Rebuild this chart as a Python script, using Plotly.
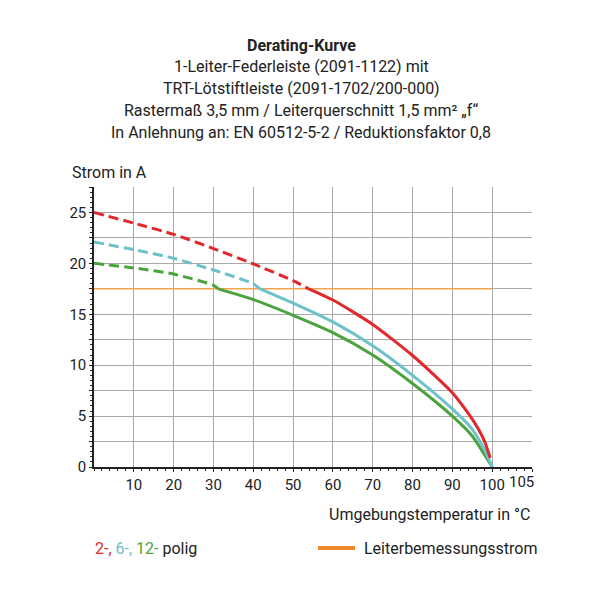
import plotly.graph_objects as go

# ---- data ----
temp_red_dash = [0, 10, 20, 30, 40, 50, 53.9]
red_dash = [25, 23.95, 22.85, 21.45, 19.95, 18.3, 17.5]
temp_red_solid = [53.9, 60, 70, 80, 90, 95, 98, 99.5]
red_solid = [17.5, 16.4, 14.0, 10.95, 7.3, 4.7, 2.6, 0.9]

temp_cyan_dash = [0, 10, 20, 30, 40, 41.7]
cyan_dash = [22.1, 21.35, 20.5, 19.35, 18.0, 17.5]
temp_cyan_solid = [41.7, 50, 60, 70, 80, 90, 95, 98, 100]
cyan_solid = [17.5, 16.1, 14.25, 11.9, 9.0, 5.7, 3.7, 1.75, 0]

temp_green_dash = [0, 10, 20, 30, 31.2]
green_dash = [20, 19.55, 18.95, 17.85, 17.5]
temp_green_solid = [31.2, 40, 50, 60, 70, 80, 90, 95, 98, 100]
green_solid = [17.5, 16.45, 14.9, 13.2, 11.0, 8.2, 5.0, 3.05, 1.25, 0]

rated_temp = [0, 100]
rated_current = [17.5, 17.5]

x_ticks = [10, 20, 30, 40, 50, 60, 70, 80, 90, 100, 110]
x_ticklabels = ["10", "20", "30", "40", "50", "60", "70", "80", "90", "100", ""]
y_ticks = [0, 2.5, 5, 7.5, 10, 12.5, 15, 17.5, 20, 22.5, 25, 27.5]
y_ticklabels = ["0", "", "5", "", "10", "", "15", "", "20", "", "25", ""]

title_lines = [
    "<b>Derating-Kurve</b>",
    "1-Leiter-Federleiste (2091-1122) mit",
    "TRT-Lötstiftleiste (2091-1702/200-000)",
    "Rastermaß 3,5 mm / Leiterquerschnitt 1,5 mm² „f“",
    "In Anlehnung an: EN 60512-5-2 / Reduktionsfaktor 0,8",
]

RED = "#e1282c"
CYAN = "#6dc1ca"
GREEN = "#4aa33d"
ORANGE = "#f6a44c"
ORANGE_LEG = "#f08a2e"
FONT = "Roboto, sans-serif"
TXT = "#222222"
FS = 16
TFS = 15

fig = go.Figure()
fig.add_trace(go.Scatter(x=rated_temp, y=rated_current, mode="lines",
                         line=dict(color=ORANGE, width=1.6)))
for xs, ys, col in [(temp_red_dash, red_dash, RED), (temp_cyan_dash, cyan_dash, CYAN),
                    (temp_green_dash, green_dash, GREEN)]:
    fig.add_trace(go.Scatter(x=xs, y=ys, mode="lines",
                             line=dict(color=col, width=3, dash="10px,5px", shape="spline", smoothing=0.6)))
for xs, ys, col in [(temp_green_solid, green_solid, GREEN), (temp_cyan_solid, cyan_solid, CYAN),
                    (temp_red_solid, red_solid, RED)]:
    fig.add_trace(go.Scatter(x=xs, y=ys, mode="lines",
                             line=dict(color=col, width=3, shape="spline", smoothing=0.6)))

# page body has an 8px margin: reference pixel coords shifted by OFF
OFF = 8
L, T, R, B = 94 - OFF, 187 - OFF, 532 - OFF, 467 - OFF
W, H = R - L, B - T


def px(x):
    return (x - OFF - L) / W


def py(y):
    return (B - (y - OFF)) / H


ann = []
for i, line in enumerate(title_lines):
    ann.append(dict(x=px(301), y=py(45 + i * 21.8), xref="paper", yref="paper", text=line,
                    showarrow=False, xanchor="center", yanchor="middle",
                    font=dict(family=FONT, size=FS, color=TXT)))
ann.append(dict(x=px(70), y=py(172), xref="paper", yref="paper", text="Strom in A",
                showarrow=False, xanchor="left", yanchor="middle",
                font=dict(family=FONT, size=FS, color=TXT)))
ann.append(dict(x=px(532), y=py(514), xref="paper", yref="paper", text="Umgebungstemperatur in °C",
                showarrow=False, xanchor="right", yanchor="middle",
                font=dict(family=FONT, size=FS, color=TXT)))
ann.append(dict(x=px(93), y=py(548), xref="paper", yref="paper",
                text=f"<span style='color:{RED}'>2-,</span> <span style='color:{CYAN}'>6-,</span> "
                     f"<span style='color:{GREEN}'>12-</span> polig",
                showarrow=False, xanchor="left", yanchor="middle",
                font=dict(family=FONT, size=FS, color=TXT)))
ann.append(dict(x=px(362), y=py(548), xref="paper", yref="paper", text="Leiterbemessungsstrom",
                showarrow=False, xanchor="left", yanchor="middle",
                font=dict(family=FONT, size=FS, color=TXT)))
ann.append(dict(x=107.3, y=py(482), xref="x", yref="paper", text="105",
                showarrow=False, xanchor="center", yanchor="middle",
                font=dict(family=FONT, size=TFS, color=TXT)))

fig.update_layout(
    width=600, height=600, showlegend=False,
    paper_bgcolor="white", plot_bgcolor="white",
    margin=dict(l=L, r=600 - R, t=T, b=600 - B, pad=0),
    annotations=ann,
    shapes=[dict(type="line", xref="paper", yref="paper", x0=px(318), x1=px(355),
                 y0=py(548), y1=py(548), line=dict(color=ORANGE_LEG, width=4))],
    xaxis=dict(range=[0, 110], tickvals=x_ticks, ticktext=x_ticklabels,
               showgrid=True, gridcolor="#a9a9a9", gridwidth=1.3,
               showline=True, linecolor="#222", linewidth=1.5, zeroline=False,
               ticks="outside", ticklen=3, tickcolor="#222",
               tickfont=dict(family=FONT, size=TFS, color=TXT),
               minor=dict(dtick=2, ticks="outside", ticklen=2, tickcolor="#222", showgrid=False)),
    yaxis=dict(range=[0, 27.5], tickvals=y_ticks, ticktext=y_ticklabels,
               showgrid=True, gridcolor="#a9a9a9", gridwidth=1.3,
               showline=True, linecolor="#222", linewidth=1.5, zeroline=False,
               ticks="outside", ticklen=3, tickcolor="#222",
               tickfont=dict(family=FONT, size=TFS, color=TXT),
               minor=dict(dtick=0.5, ticks="outside", ticklen=2, tickcolor="#222", showgrid=False)),
)

fig.write_html("out.html")
